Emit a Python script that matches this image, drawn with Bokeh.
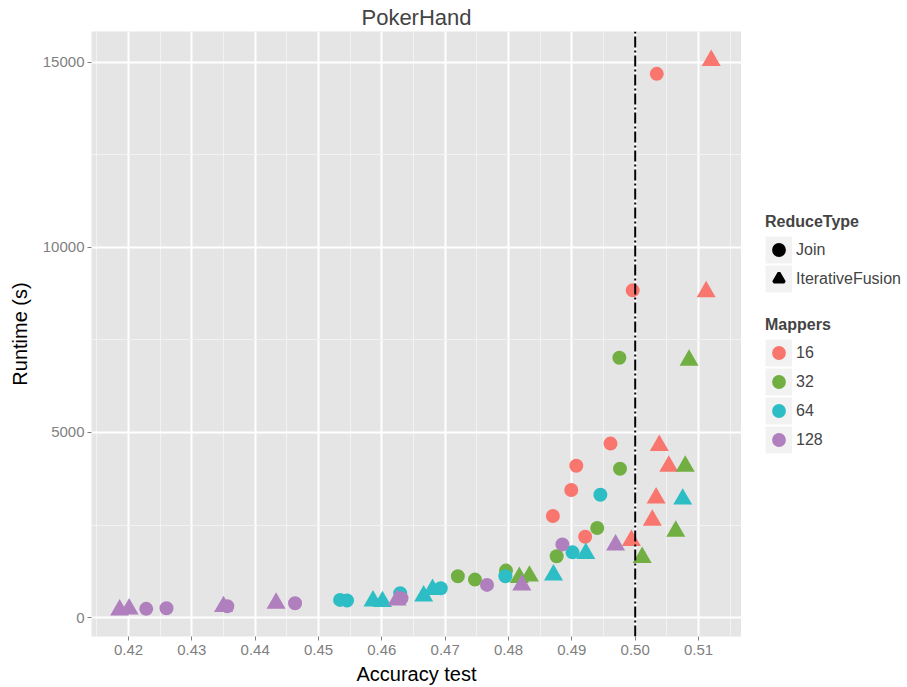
import numpy as np
from bokeh.plotting import figure
from bokeh.layouts import row
from bokeh.models import (FixedTicker, Span, Legend, LegendItem, Range1d)
from bokeh.embed import file_html
from bokeh.resources import INLINE

# ---------------- data ----------------
mapper_levels = ["16", "32", "64", "128"]
mapper_colors = ["#F8766D", "#72AF43", "#2CBEC4", "#B07FBE"]
reduce_types = ["Join", "IterativeFusion"]
reduce_markers = ["circle", "triangle"]

join_acc_16 = [0.5034, 0.4996, 0.4961, 0.4907, 0.4899, 0.4870, 0.4921]
join_rt_16 = [14690, 8840, 4700, 4100, 3445, 2745, 2185]
fusion_acc_16 = [0.5120, 0.5112, 0.5038, 0.5053, 0.5033, 0.5027, 0.4994]
fusion_rt_16 = [15050, 8800, 4650, 4090, 3230, 2630, 2080]

join_acc_32 = [0.4975, 0.4976, 0.4940, 0.4876, 0.4796, 0.4720, 0.4747]
join_rt_32 = [7020, 4020, 2420, 1655, 1268, 1114, 1025]
fusion_acc_32 = [0.5085, 0.5079, 0.5064, 0.5011, 0.4833, 0.4817]
fusion_rt_32 = [6950, 4090, 2330, 1620, 1120, 1085]

join_acc_64 = [0.4945, 0.4901, 0.4795, 0.4693, 0.4629, 0.4534, 0.4545]
join_rt_64 = [3318, 1762, 1114, 791, 656, 477, 459]
fusion_acc_64 = [0.5075, 0.4922, 0.4871, 0.4680, 0.4666, 0.4586, 0.4601]
fusion_rt_64 = [3200, 1730, 1150, 760, 580, 450, 430]

join_acc_128 = [0.4885, 0.4766, 0.4631, 0.4463, 0.4356, 0.4260, 0.4228]
join_rt_128 = [1977, 882, 521, 386, 305, 251, 235]
fusion_acc_128 = [0.4969, 0.4821, 0.4624, 0.4433, 0.4350, 0.4201, 0.4186]
fusion_rt_128 = [1960, 880, 475, 385, 295, 230, 205]

x_ticks = [0.42, 0.43, 0.44, 0.45, 0.46, 0.47, 0.48, 0.49, 0.50, 0.51]
x_tick_labels = ["0.42", "0.43", "0.44", "0.45", "0.46", "0.47", "0.48", "0.49", "0.50", "0.51"]
x_minor = [0.415, 0.425, 0.435, 0.445, 0.455, 0.465, 0.475, 0.485, 0.495, 0.505, 0.515]
y_ticks = [0, 5000, 10000, 15000]
y_tick_labels = ["0", "5000", "10000", "15000"]
y_minor = [2500, 7500, 12500]
threshold = 0.50

groups = {
    "16": (join_acc_16, join_rt_16, fusion_acc_16, fusion_rt_16),
    "32": (join_acc_32, join_rt_32, fusion_acc_32, fusion_rt_32),
    "64": (join_acc_64, join_rt_64, fusion_acc_64, fusion_rt_64),
    "128": (join_acc_128, join_rt_128, fusion_acc_128, fusion_rt_128),
}

FONT = "Liberation Sans"

p = figure(width=741, height=687, output_backend="svg", toolbar_location=None,
           x_range=Range1d(0.41416, 0.51678), y_range=Range1d(-512, 15834),
           min_border_left=91, min_border_right=0, min_border_top=30, min_border_bottom=51,
           x_axis_label="Accuracy test", y_axis_label="Runtime (s)")

p.title.text = "PokerHand"
p.title.align = "center"
p.title.text_font = FONT
p.title.text_font_size = "22px"
p.title.text_font_style = "normal"
p.title.standoff = 4
p.title.offset = 0

p.background_fill_color = "#E5E5E5"
p.border_fill_color = "white"
p.outline_line_color = None

xt = FixedTicker(ticks=x_ticks, minor_ticks=x_minor)
yt = FixedTicker(ticks=y_ticks, minor_ticks=y_minor)
p.xaxis.ticker = xt
p.yaxis.ticker = yt
p.xgrid.ticker = xt
p.ygrid.ticker = yt
p.xaxis.major_label_overrides = dict(zip(x_ticks, x_tick_labels))
p.yaxis.major_label_overrides = dict(zip(y_ticks, y_tick_labels))

for ax in (p.xaxis, p.yaxis):
    ax.axis_line_color = None
    ax.major_tick_line_color = "#7F7F7F"
    ax.major_tick_out = 4
    ax.major_tick_in = 0
    ax.minor_tick_line_color = None
    ax.major_label_text_color = "#7F7F7F"
    ax.major_label_text_font = FONT
    ax.major_label_text_font_size = "15px"
    ax.axis_label_text_font = FONT
    ax.axis_label_text_font_size = "20px"
    ax.axis_label_text_font_style = "normal"
    ax.axis_label_text_color = "black"
p.xaxis.major_label_standoff = 4
p.xaxis.axis_label_standoff = 5
p.yaxis.major_label_standoff = 3
p.yaxis.axis_label_standoff = 9

for g in (p.xgrid, p.ygrid):
    g.grid_line_color = "white"
    g.grid_line_width = 2
    g.minor_grid_line_color = "#F2F2F2"
    g.minor_grid_line_width = 1

for lvl, col in zip(mapper_levels, mapper_colors):
    ja, jr, fa, fr = groups[lvl]
    p.scatter(x=ja, y=jr, marker="circle", size=14, fill_color=col, line_color=None)
    p.scatter(x=fa, y=fr, marker="triangle", size=19, fill_color=col, line_color=None)

p.add_layout(Span(location=threshold, dimension="height", line_color="black",
                  line_width=2, line_dash="2 3 11 3"))

# ---------------- legend panel ----------------
lf = figure(width=166, height=687, output_backend="svg", toolbar_location=None,
            x_range=Range1d(0, 1), y_range=Range1d(0, 1),
            x_axis_type=None, y_axis_type=None, min_border=0)
lf.outline_line_color = None
lf.background_fill_color = "white"
lf.border_fill_color = "white"

nan1 = [np.nan]
key_bg = lf.line(x=nan1, y=nan1, line_color="#F2F2F2", line_width=27)
shape_keys = [lf.scatter(x=nan1, y=nan1, marker=m, size=10, fill_color="black",
                         line_color="black", line_width=3)
              for m in reduce_markers]
color_keys = [lf.scatter(x=nan1, y=nan1, marker="circle", size=10, fill_color=c,
                         line_color=c, line_width=3)
              for c in mapper_colors]

def make_legend(title, labels, keys, loc):
    return Legend(items=[LegendItem(label=l, renderers=[key_bg, k]) for l, k in zip(labels, keys)],
                  title=title, location=loc, orientation="vertical",
                  glyph_width=27, glyph_height=29, spacing=0, padding=0, margin=0,
                  label_standoff=4, label_text_font=FONT, label_text_font_size="16px",
                  label_height=20,
                  title_text_font=FONT, title_text_font_size="16px", title_text_font_style="bold",
                  title_standoff=4, background_fill_alpha=0, border_line_alpha=0)

lf.add_layout(make_legend("ReduceType", reduce_types, shape_keys, (24, 343)))
lf.add_layout(make_legend("Mappers", mapper_levels, color_keys, (24, 182)))

layout = row(p, lf, spacing=0)
open("out.html", "w").write(file_html(layout, INLINE))
